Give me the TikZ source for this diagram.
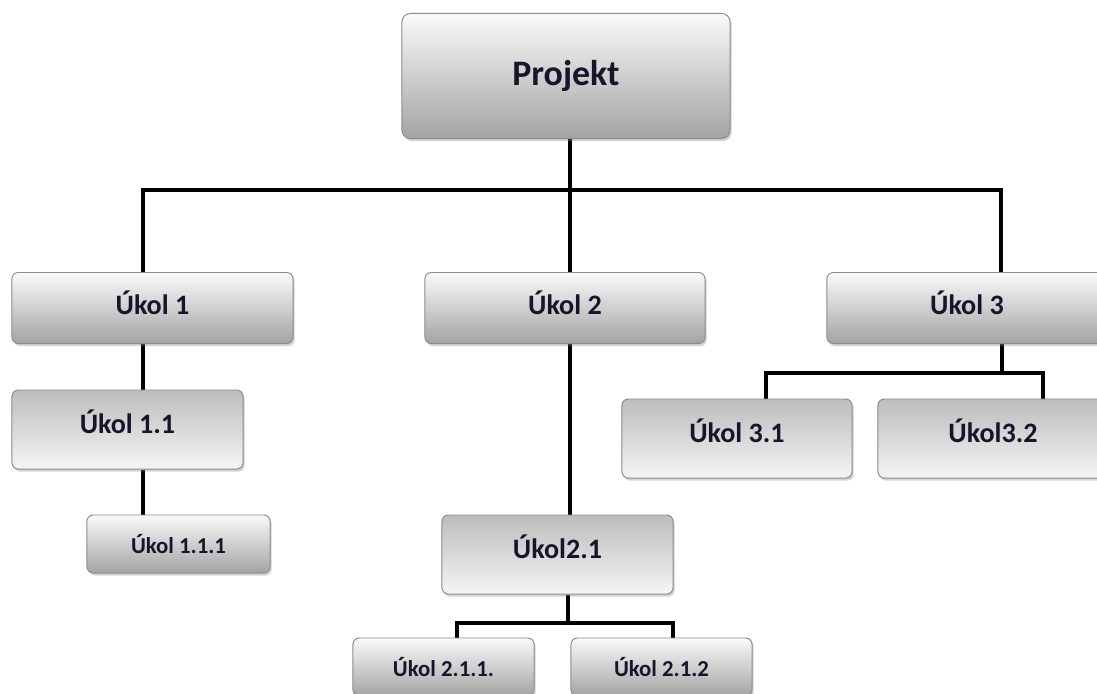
\documentclass[tikz,border=0pt]{standalone}
\usepackage{fontspec}
\setmainfont{Carlito}
\usetikzlibrary{shadows, backgrounds, calc}
\definecolor{boxedge}{HTML}{8C8C8C}
\definecolor{boxtext}{HTML}{16162A}
\tikzset{
  box/.style={draw=boxedge, line width=0.7pt, rounded corners=4.5pt, text=boxtext, inner sep=0pt,
    drop shadow={shadow xshift=1.2pt, shadow yshift=-1.8pt, opacity=0.35}},
  topbox/.style={box, top color=black!2, bottom color=black!36},
  subbox/.style={box, top color=black!26, bottom color=black!4, text depth=11pt},
  bigtxt/.style={font=\fontsize{25.5}{30}\selectfont\bfseries},
  midtxt/.style={font=\fontsize{20}{24}\selectfont\bfseries},
  smalltxt/.style={font=\fontsize{16.2}{19}\selectfont\bfseries},
  conn/.style={line width=2.5pt, black}
}
\begin{document}
\begin{tikzpicture}[x=0.025cm, y=-0.025cm]
  \useasboundingbox (0,0) rectangle (1097,693);

  % boxes
  \node[topbox, bigtxt, rounded corners=6pt, minimum width=8.2cm, minimum height=3.125cm] (proj) at (566,76) {Projekt};

  \node[topbox, midtxt, text depth=8pt, minimum width=7.025cm, minimum height=1.775cm] (u1) at (152.5,308) {Úkol 1};
  \node[topbox, midtxt, text depth=8pt, minimum width=7cm, minimum height=1.775cm] (u2) at (565,308) {Úkol 2};
  \node[topbox, midtxt, text depth=8pt, minimum width=7cm, minimum height=1.775cm] (u3) at (967,308) {Úkol 3};

  \node[subbox, midtxt, minimum width=5.775cm, minimum height=1.975cm] (u11) at (127.5,429.5) {Úkol 1.1};
  \node[topbox, smalltxt, minimum width=4.575cm, minimum height=1.45cm] (u111) at (178.5,544) {Úkol 1.1.1};

  \node[subbox, midtxt, minimum width=5.775cm, minimum height=1.975cm] (u21) at (557.5,554.5) {Úkol2.1};
  \node[topbox, smalltxt, minimum width=4.525cm, minimum height=1.45cm] (u211) at (443.5,667) {Úkol 2.1.1.};
  \node[topbox, smalltxt, minimum width=4.525cm, minimum height=1.45cm] (u212) at (661.5,667) {Úkol 2.1.2};

  \node[subbox, midtxt, minimum width=5.75cm, minimum height=1.975cm] (u31) at (737,438.5) {Úkol 3.1};
  \node[subbox, midtxt, minimum width=5.75cm, minimum height=1.975cm] (u32) at (993,438.5) {Úkol3.2};

  % junctions
  \coordinate (j1) at (143,190);
  \coordinate (j2) at (570,190);
  \coordinate (j3) at (1001,190);
  \coordinate (k2) at (568,623);
  \coordinate (k21) at (457,623);
  \coordinate (k22) at (673,623);
  \coordinate (m3) at (1002,373);
  \coordinate (m31) at (766,373);
  \coordinate (m32) at (1043,373);

  \begin{scope}[on background layer]
    \draw[conn] (proj.south -| j2) -- (j2);
    \draw[conn] (j1 |- u1.north) -- (j1) -- (j3) -- (j3 |- u3.north);
    \draw[conn] (j2) -- (j2 |- u2.north);
    \draw[conn] (j1 |- u1.south) -- (j1 |- u11.north);
    \draw[conn] (j1 |- u11.south) -- (j1 |- u111.north);
    \draw[conn] (j2 |- u2.south) -- (j2 |- u21.north);
    \draw[conn] (k2 |- u21.south) -- (k2);
    \draw[conn] (k21 |- u211.north) -- (k21) -- (k22) -- (k22 |- u212.north);
    \draw[conn] (m3 |- u3.south) -- (m3);
    \draw[conn] (m31 |- u31.north) -- (m31) -- (m32) -- (m32 |- u32.north);
  \end{scope}
\end{tikzpicture}
\end{document}
